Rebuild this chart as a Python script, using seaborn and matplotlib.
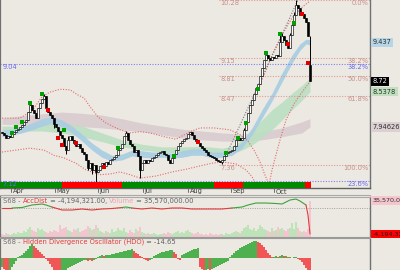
import numpy as np
import pandas as pd
import matplotlib
matplotlib.use("Agg")
import matplotlib.pyplot as plt
import seaborn as sns
from matplotlib.ticker import NullLocator
from matplotlib.transforms import blended_transform_factory
from matplotlib.lines import Line2D

sns.set_theme(style="white")
plt.rcParams["font.family"] = ["DejaVu Sans"]

BG = "#ECE9E3"

# ---------------- data ----------------
close = [7.85, 7.82, 7.77, 7.80, 7.79, 7.83, 7.87, 7.90, 7.91, 7.95,
         7.98, 8.03, 8.06, 8.19, 8.31, 8.23, 8.17, 8.09, 8.26, 8.34,
         8.41, 8.46, 8.26, 8.19, 8.14, 8.09, 7.99, 7.95, 7.88, 7.82,
         7.77, 7.64, 7.58, 7.74, 7.80, 7.74, 7.69, 7.64, 7.67, 7.61,
         7.55, 7.52, 7.43, 7.31, 7.38, 7.28, 7.35, 7.25, 7.28, 7.34,
         7.38, 7.34, 7.40, 7.37, 7.43, 7.44, 7.47, 7.50, 7.58, 7.61,
         7.67, 7.80, 7.85, 7.74, 7.67, 7.64, 7.55, 7.58, 7.49, 7.28,
         7.38, 7.43, 7.38, 7.43, 7.41, 7.46, 7.47, 7.50, 7.53, 7.55,
         7.57, 7.52, 7.50, 7.43, 7.38, 7.46, 7.52, 7.58, 7.64, 7.69,
         7.72, 7.75, 7.77, 7.83, 7.87, 7.82, 7.75, 7.72, 7.69, 7.64,
         7.61, 7.58, 7.55, 7.50, 7.49, 7.47, 7.46, 7.43, 7.41, 7.40,
         7.43, 7.49, 7.53, 7.55, 7.57, 7.58, 7.64, 7.74, 7.77, 7.74,
         7.77, 7.90, 8.03, 8.17, 8.31, 8.39, 8.50, 8.60, 8.67, 8.81,
         8.96, 9.11, 9.20, 9.14, 9.11, 9.16, 9.14, 9.20, 9.18, 9.45,
         9.56, 9.49, 9.39, 9.33, 9.58, 9.78, 9.98, 10.19, 10.12, 9.98,
         10.00, 9.92, 9.84, 9.56, 8.72]
first_open = 7.87
open_override = {154: 9.02}
wick_high = {14: 8.36, 21: 8.50, 33: 7.80, 62: 7.88, 121: 7.93, 139: 9.62, 140: 9.62,
             144: 9.62, 145: 9.84, 146: 10.05, 147: 10.28, 154: 9.56}
wick_low = {26: 7.93, 32: 7.52, 43: 7.28, 45: 7.22, 47: 7.03, 69: 7.16, 110: 7.37}

volume = [3, 2, 4, 3, 2, 3, 4, 3, 5, 4,
          4, 6, 5, 8, 10, 7, 6, 5, 9, 7,
          8, 6, 5, 4, 6, 5, 7, 6, 5, 12,
          8, 9, 10, 7, 6, 5, 8, 7, 9, 5,
          6, 7, 8, 11, 9, 7, 8, 12, 9, 6,
          5, 4, 6, 5, 4, 8, 5, 6, 9, 7,
          6, 9, 5, 4, 7, 5, 4, 8, 6, 10,
          5, 4, 3, 4, 3, 3, 4, 3, 2, 3,
          3, 4, 3, 5, 4, 3, 4, 5, 6, 4,
          5, 4, 6, 7, 5, 4, 3, 4, 5, 3,
          3, 2, 3, 2, 4, 3, 2, 3, 2, 3,
          3, 2, 4, 3, 3, 4, 5, 6, 5, 4,
          6, 9, 10, 12, 8, 7, 9, 6, 8, 12,
          10, 8, 7, 6, 5, 9, 6, 7, 10, 8,
          9, 7, 6, 8, 9, 14, 8, 15, 9, 6,
          5, 6, 5, 8, 35.57]

hdo = [-9, -11, -12, -13, -12, -9, -6, -3,
       1, 2, 3, 5, 7, 9, 12, 14,
       12, 10, 8, 6, 4, 2,
       -1, -3, -6,
       -9, -12, -15, -17, -18, -16, -14, -12,
       -10, -9, -8, -7, -6, -5, -4, -3, -2, -2,
       -3, -2, -3, -2, -1,
       1, 2, 3, 2, 3, 3,
       3, 4, 4, 5, 5, 6, 6, 7, 7, 8, 8, 9,
       7, 5, 4, 2, 1,
       -1, -2, -3, -2, -1,
       2, 3, 4, 5, 6, 6, 7, 7, 8, 8,
       6, 4, -1, -2,
       3, 4, 5, 6, 7, 8, 9, 9, 10,
       -9, -11, -12, -12, -11, -12, -11, -10,
       -9, -8, -7, -6, -5, -4, -3,
       1, 3, 5, 7, 8, 10,
       11, 12, 13, 14, 15, 16, 17, 17,
       16, 15, 13, 11, 8, 5, 3,
       1, 1, 2, 1, 2, 3, 2, 2, 1, 1, 0.5, 1, 1,
       -1, -2, -4,
       -7, -10, -12, -14.65]

ad_idx = [0, 5, 10, 13, 15, 20, 22, 25, 30, 35, 40, 45, 50, 55, 60, 62, 65, 70,
          75, 80, 85, 90, 95, 100, 105, 110, 115, 120, 123, 127, 132, 137, 140,
          144, 147, 149, 152, 153, 154]
ad_val = [21.8, 21.8, 22.3, 23.8, 24.8, 25.8, 24.8, 22.8, 19.8, 19.8, 20.8, 19.8,
          20.8, 21.3, 22.3, 22.8, 21.8, 20.8, 21.8, 20.8, 21.8, 21.8, 20.8, 20.8,
          20.8, 20.8, 21.8, 22.8, 24.8, 26.8, 26.8, 26.3, 25.8, 29.8, 30.8, 28.8,
          24.8, 14.8, -4.194321]
ad_ref = 21.8

blue_idx = [0, 5, 10, 15, 20, 25, 30, 35, 40, 45, 50, 55, 60, 65, 70, 75, 80, 85,
            90, 95, 100, 105, 110, 115, 120, 125, 130, 135, 140, 145, 149, 152, 154]
blue_top = [7.90, 7.91, 7.95, 8.01, 8.08, 8.11, 8.06, 7.96, 7.83, 7.69, 7.58, 7.50,
            7.52, 7.58, 7.57, 7.55, 7.55, 7.53, 7.57, 7.60, 7.60, 7.55, 7.55, 7.58,
            7.71, 7.93, 8.23, 8.51, 8.87, 9.20, 9.41, 9.50, 9.49]
blue_bot = [7.79, 7.82, 7.85, 7.90, 7.96, 8.01, 7.95, 7.85, 7.72, 7.58, 7.47, 7.41,
            7.43, 7.49, 7.47, 7.46, 7.47, 7.46, 7.47, 7.50, 7.50, 7.46, 7.47, 7.50,
            7.61, 7.82, 8.09, 8.38, 8.71, 9.05, 9.29, 9.41, 9.39]

green_idx = [0, 10, 20, 30, 40, 50, 60, 70, 80, 90, 100, 110, 115, 120, 125, 130,
             135, 140, 145, 150, 154]
green_top = [7.96, 7.96, 7.99, 8.01, 7.96, 7.85, 7.74, 7.67, 7.63, 7.63, 7.64, 7.61,
             7.64, 7.74, 7.90, 8.06, 8.23, 8.36, 8.51, 8.65, 8.78]
green_bot = [7.90, 7.88, 7.88, 7.85, 7.79, 7.71, 7.63, 7.58, 7.55, 7.53, 7.55, 7.52,
             7.53, 7.58, 7.66, 7.77, 7.90, 8.06, 8.23, 8.39, 8.5378]

mauve_idx = [0, 10, 20, 30, 40, 50, 60, 70, 80, 90, 100, 110, 120, 130, 140, 150, 154]
mauve_top = [8.09, 8.13, 8.16, 8.19, 8.17, 8.14, 8.08, 8.01, 7.96, 7.91, 7.88, 7.85,
             7.83, 7.87, 7.93, 8.03, 8.08]
mauve_bot = [7.99, 7.98, 7.96, 7.96, 7.95, 7.93, 7.90, 7.87, 7.82, 7.77, 7.74, 7.72,
             7.72, 7.74, 7.79, 7.85, 7.94626]

env_up1_idx = [0, 9, 15, 20, 24, 29, 34, 38, 41, 44, 48, 52, 59, 64, 69, 74, 81, 87,
               94, 99, 106, 114, 119, 123, 126, 129, 131, 133, 134]
env_up1_val = [8.09, 8.09, 8.21, 8.45, 8.53, 8.58, 8.57, 8.48, 8.43, 8.28, 8.11, 8.01,
               7.90, 7.85, 7.87, 7.85, 7.79, 7.75, 7.87, 7.93, 7.93, 7.90, 7.82, 7.72,
               7.58, 7.40, 7.24, 7.10, 7.00]
env_lo1_idx = [0, 7, 14, 21, 26, 31, 37, 42, 49, 54, 59, 64, 69, 77, 85, 92, 99, 105,
               110, 117, 122, 125, 128, 130]
env_lo1_val = [7.55, 7.58, 7.61, 7.58, 7.50, 7.46, 7.38, 7.28, 7.21, 7.22, 7.25, 7.21,
               7.16, 7.19, 7.25, 7.29, 7.34, 7.38, 7.40, 7.37, 7.28, 7.18, 7.02, 6.93]
env_lo2_idx = [133, 135, 139, 142, 146, 150, 154]
env_lo2_val = [6.99, 7.28, 7.74, 8.06, 8.33, 8.53, 8.71]
env_up2_idx = [128, 131, 135, 140, 145, 150, 154]
env_up2_val = [8.58, 8.83, 9.20, 9.58, 9.92, 10.14, 10.27]

trend_idx = [110, 148]
trend_val = [7.37, 10.29]

green_dot_idx = [5, 7, 10, 14, 20, 31, 58, 86, 112, 118, 122, 128, 132, 139, 146]
green_dot_val = [7.85, 7.95, 8.03, 8.34, 8.50, 7.90, 7.61, 7.49, 7.53, 7.77, 8.01,
                 8.58, 9.24, 9.60, 9.82]
red_dot_idx = [23, 28, 30, 37, 51, 98, 143, 150, 153]
red_dot_val = [8.23, 7.77, 7.66, 7.69, 7.32, 7.71, 9.41, 10.00, 9.05]

fib_levels = [10.28, 9.15, 8.81, 8.47, 7.36]
fib_pct = ["0.0%", "38.2%", "50.0%", "61.8%", "100.0%"]
fib_left = ["10.28", "9.15", "8.81", "8.47", "7.36"]
fib_start = 108.5
blue_levels = [9.04, 7.12]
blue_pct = ["38.2%", "23.6%"]
blue_left = ["9.04", "7.12"]

strip_breaks = [-1, 30, 60, 106, 120.5, 151.5, 154.6]
strip_cols = ["#008A00", "#FF0000", "#008A00", "#FF0000", "#008A00", "#FF0000"]

month_idx = [4.5, 26.5, 48, 70.5, 93, 114.5, 136]
month_lab = ["Apr", "May", "Jun", "Jul", "Aug", "Sep", "Oct"]

right_labels = [(9.437, "9.437", "#B6D6E6", "#303030"),
                (8.72, "8.72", "#000000", "#FFFFFF"),
                (8.5378, "8.5378", "#BFE0BF", "#303030"),
                (7.94626, "7.94626", "#DCD0D2", "#303030")]

# ---------------- figure ----------------
W, H = 400, 270
fig = plt.figure(figsize=(4, 2.7), dpi=100, facecolor=BG)
xr = 370 / W
ax = fig.add_axes([0, 1 - 188 / H, xr, 188 / H])
ax_ad = fig.add_axes([0, 1 - 237 / H, xr, 40 / H])
ax_hdo = fig.add_axes([0, 0, xr, 31.5 / H])

XL = (-1, 184)
for a in (ax, ax_ad, ax_hdo):
    a.set_facecolor(BG)
    a.set_xlim(*XL)
    a.set_xticks([])
    a.set_yticks([])
    for s in a.spines.values():
        s.set_visible(False)
    a.spines["left"].set_visible(True)
    a.spines["left"].set_color("#707070")
    a.spines["left"].set_linewidth(1.6)
    a.spines["right"].set_visible(True)
    a.spines["right"].set_color("#707070")
    a.spines["right"].set_linewidth(1.0)

ax.spines["bottom"].set_visible(True)
ax.spines["bottom"].set_color("#606060")
ax.spines["bottom"].set_linewidth(1.0)

# main price panel
ax.set_yscale("log")
ax.set_ylim(7.017, 10.29)
ax.yaxis.set_minor_locator(NullLocator())
ax.yaxis.set_major_locator(NullLocator())

ax.fill_between(mauve_idx, mauve_bot, mauve_top, color="#DACED0", lw=0, zorder=1)
ax.fill_between(green_idx, green_bot, green_top, color="#BCDFC2", lw=0, alpha=0.9, zorder=1.2)
ax.fill_between(blue_idx, blue_bot, blue_top, color="#A9CEE1", lw=0, alpha=0.95, zorder=1.4)

dot = (0, (1, 1.4))
ax.hlines(fib_levels, fib_start, XL[1], colors="#E39A92", linestyles=dot, lw=0.8, zorder=2)
ax.hlines(blue_levels, XL[0], XL[1], colors="#7F7FF5", linestyles=dot, lw=0.8, zorder=2)
for lv, p, l in zip(fib_levels, fib_pct, fib_left):
    ax.text(XL[1] - 0.6, lv, p, ha="right", va="top", fontsize=4.8, color="#C8908A", zorder=3)
    ax.text(fib_start + 0.8, lv, l, ha="left", va="top", fontsize=4.8, color="#C8908A", zorder=3)
for lv, p, l in zip(blue_levels, blue_pct, blue_left):
    ax.text(XL[1] - 0.6, lv, p, ha="right", va="top", fontsize=4.8, color="#6A6AEE", zorder=9)
    ax.text(0.2, lv, l, ha="left", va="top", fontsize=4.8, color="#6A6AEE", zorder=9)

for ix, vv in ((env_up1_idx, env_up1_val), (env_lo1_idx, env_lo1_val),
               (env_lo2_idx, env_lo2_val), (env_up2_idx, env_up2_val)):
    sns.lineplot(x=ix, y=vv, ax=ax, color="#E46A6A", lw=0.8, linestyle=dot,
                 sort=False, estimator=None, zorder=3)
sns.lineplot(x=trend_idx, y=trend_val, ax=ax, color="#7A7A7A", lw=0.8, linestyle=dot,
             sort=False, estimator=None, zorder=3)

# candles
c = np.array(close)
n = len(c)
idx = np.arange(n)
o = np.array([first_open] + close[:-1])
for k, v in open_override.items():
    o[k] = v
hi = np.maximum(o, c)
lo = np.minimum(o, c)
for k, v in wick_high.items():
    hi[k] = max(hi[k], v)
for k, v in wick_low.items():
    lo[k] = min(lo[k], v)
up = c >= o
ax.vlines(idx, lo, hi, color="black", lw=0.7, zorder=5)
body_h = np.maximum(np.abs(c - o), 0.01)
ax.bar(idx, body_h, bottom=np.minimum(o, c), width=0.95,
       color=np.where(up, "white", "black"), edgecolor="black", linewidth=0.45, zorder=6)

sns.scatterplot(x=green_dot_idx, y=green_dot_val, ax=ax, color="#00A000", s=5,
                marker="s", linewidth=0, zorder=7)
sns.scatterplot(x=red_dot_idx, y=red_dot_val, ax=ax, color="#E00000", s=5,
                marker="s", linewidth=0, zorder=7)

# signal strip
xt = blended_transform_factory(ax.transData, ax.transAxes)
sh = 6 / 188
for a0, a1, col in zip(strip_breaks[:-1], strip_breaks[1:], strip_cols):
    ax.fill_between([a0, a1], [0, 0], [sh, sh], transform=xt, color=col, lw=0, zorder=8)

# month ticks
for m, lab in zip(month_idx, month_lab):
    ax.plot([m, m], [0, -4 / 188], transform=xt, color="#707070", lw=0.7, clip_on=False)
    ax.text(m + 0.8, -0.5 / 188, lab, transform=xt, ha="left", va="top",
            fontsize=4.8, color="#404040", clip_on=False)

# right price labels
yt = blended_transform_factory(ax.transAxes, ax.transData)
for v, s, fc, tc in right_labels:
    ax.text(1.007, v, s, transform=yt, ha="left", va="center", fontsize=4.8, color=tc,
            bbox=dict(boxstyle="square,pad=0.25", fc=fc, ec="none"), clip_on=False)

# ---------------- AccDist / Volume panel ----------------
ax_ad.set_ylim(0, 39)
vcol = ["#BFE3B8" if u else "#F2C6CE" for u in up]
ax_ad.bar(idx, volume, width=0.8, color=vcol, lw=0, zorder=1)
ax_line = ax_ad.twinx()
ax_line.set_ylim(-7.19, 32.81)
ax_line.set_xlim(*XL)
ax_line.set_yticks([])
for s in ax_line.spines.values():
    s.set_visible(False)
ax_line.axhline(ad_ref, color="#A0A0A0", lw=0.7, linestyle=dot, zorder=1)
runs = []
cur = None
for k in range(len(ad_idx) - 1):
    col = "#3EA03E" if (ad_val[k] + ad_val[k + 1]) / 2 > 22.0 else "#E23A3A"
    if cur is None or cur[0] != col:
        if cur is not None:
            runs.append(cur)
        cur = [col, [ad_idx[k]], [ad_val[k]]]
    cur[1].append(ad_idx[k + 1])
    cur[2].append(ad_val[k + 1])
runs.append(cur)
for col, xs, ys in runs:
    sns.lineplot(x=xs, y=ys, ax=ax_line, color=col, lw=0.8, sort=False, estimator=None, zorder=3)
ax_line.set_xlabel("")
ax_line.set_ylabel("")

yt2 = blended_transform_factory(ax_ad.transAxes, ax_ad.transData)
ax_ad.text(1.007, volume[-1], "35,570,000.00", transform=yt2, ha="left", va="center",
           fontsize=4.6, color="#303030",
           bbox=dict(boxstyle="square,pad=0.25", fc="#F6C6CE", ec="none"), clip_on=False)
yt3 = blended_transform_factory(ax_line.transAxes, ax_line.transData)
ax_line.text(1.007, ad_val[-1], "-4,194,321.00", transform=yt3, ha="left", va="center",
             fontsize=4.6, color="#202020",
             bbox=dict(boxstyle="square,pad=0.25", fc="#FF0000", ec="none"), clip_on=False)


def multicolor(a, parts, fs=4.9):
    t = a.text(0.008, 0.985, parts[0][0], color=parts[0][1], transform=a.transAxes,
               fontsize=fs, va="top", ha="left", zorder=10)
    for s, col in parts[1:]:
        t = a.annotate(s, xy=(1, 0), xycoords=t, xytext=(0, 0), textcoords="offset points",
                       color=col, fontsize=fs, va="bottom", ha="left", zorder=10)
    return t


multicolor(ax_line, [("S68 - ", "#707070"), ("AccDist", "#E23A3A"),
                     (" = -4,194,321.00, ", "#606060"), ("Volume", "#F0A0B0"),
                     (" = 35,570,000.00", "#606060")])

# ---------------- HDO panel ----------------
ax_hdo.set_ylim(-12, 19.5)
hv = np.array(hdo, dtype=float)
diff = np.diff(np.concatenate([[hv[0]], hv]))
hcol = ["#4FB04F" if d >= 0 else "#F05656" for d in diff]
ax_hdo.bar(idx, hv, width=0.7, color=hcol, lw=0, zorder=2)
multicolor(ax_hdo, [("S68 - ", "#707070"), ("Hidden Divergence Oscillator (HDO)", "#E23A3A"),
                    (" = -14.65", "#606060")])

# panel separators
for yp, colr in ((195.2, "#A8A8A8"), (196.8, "#A8A8A8"), (236.8, "#9A9A9A"), (238.3, "#9A9A9A")):
    fig.add_artist(Line2D([0, xr], [1 - yp / H, 1 - yp / H], transform=fig.transFigure,
                          color=colr, lw=0.8))

fig.savefig("out.png", dpi=100, facecolor=BG)
